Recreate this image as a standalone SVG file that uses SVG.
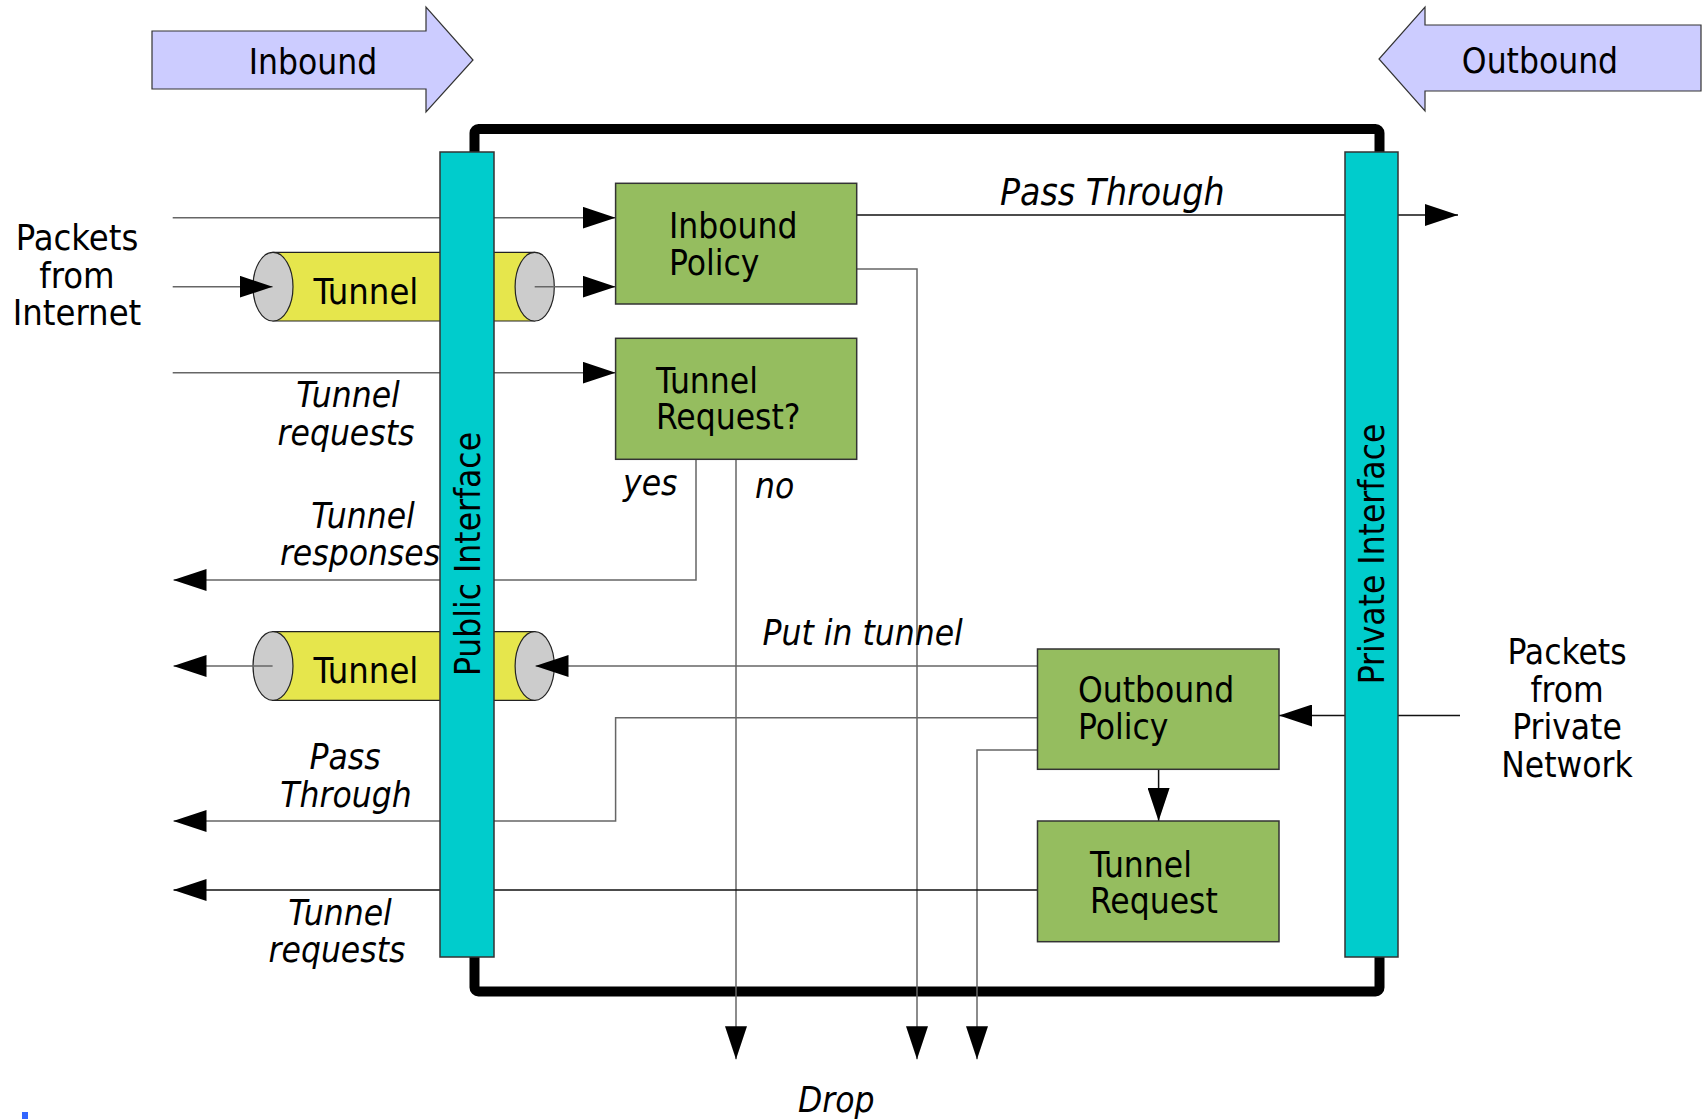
<svg xmlns="http://www.w3.org/2000/svg" width="1702" height="1119" viewBox="0 0 1702 1119">
<defs>
<style>
.t{font-family:"DejaVu Sans Condensed","DejaVu Sans","Liberation Sans",sans-serif;font-stretch:condensed;font-size:35px;fill:#000}
.i{font-family:"DejaVu Sans Condensed","DejaVu Sans","Liberation Sans",sans-serif;font-stretch:condensed;font-size:35px;font-style:italic;fill:#000}
.m{text-anchor:middle}
.box{fill:#95bd5f;stroke:#333;stroke-width:1.5}
.bar{fill:#00cccc;stroke:#333;stroke-width:1.5}
.big{fill:#ccccff;stroke:#333;stroke-width:1.2}
.cyl{fill:#e6e64c;stroke:#222;stroke-width:1.2}
.cap{fill:#cccccc;stroke:#222;stroke-width:1.2}
.g{fill:none;stroke:#666;stroke-width:1.5}
.k{fill:none;stroke:#111;stroke-width:1.5}
</style>
<marker id="ah" viewBox="0 0 33 22" refX="33" refY="11" markerWidth="33" markerHeight="22" markerUnits="userSpaceOnUse" orient="auto">
<path d="M0,0 L33,11 L0,22 z" fill="#000"/>
</marker>
</defs>
<rect width="1702" height="1119" fill="#fff"/>

<g id="inbound-arrow">
<polygon class="big" points="152,31 426,31 426,7 473,60 426,112 426,89 152,89"/>
<text class="t m" x="313" y="74">Inbound</text>
</g>
<g id="outbound-arrow">
<polygon class="big" points="1701,25 1425,25 1425,7 1379,59 1425,111 1425,91 1701,91"/>
<text class="t m" x="1540" y="73">Outbound</text>
</g>

<g id="frame">
<rect x="474.5" y="129" width="905" height="862.5" rx="4" fill="none" stroke="#000" stroke-width="10"/>
</g>

<g id="tunnel-in">
<path class="cyl" d="M273,252.3 H534.7 V321 H273 Z"/>
<ellipse class="cap" cx="273" cy="286.7" rx="20" ry="34.3"/>
<ellipse class="cap" cx="534.7" cy="286.7" rx="19.6" ry="34.3"/>
<text class="t" x="313.5" y="304.3" style="font-size:36px">Tunnel</text>
</g>
<g id="tunnel-out">
<path class="cyl" d="M273,631.7 H534.7 V700.3 H273 Z"/>
<ellipse class="cap" cx="273" cy="666" rx="20" ry="34.3"/>
<ellipse class="cap" cx="534.7" cy="666" rx="19.6" ry="34.3"/>
<text class="t" x="313.5" y="683.3" style="font-size:36px">Tunnel</text>
</g>

<g id="connectors">
<path class="g" d="M172.7,217.7 H615.6" marker-end="url(#ah)"/>
<path class="g" d="M172.7,286.7 H272.6" marker-end="url(#ah)"/>
<path class="g" d="M534.7,286.7 H615.6" marker-end="url(#ah)"/>
<path class="g" d="M172.7,372.7 H615.6" marker-end="url(#ah)"/>
<path class="k" d="M856.7,215 H1458" marker-end="url(#ah)"/>
<path class="g" d="M856.7,269 H917 V1059.3" marker-end="url(#ah)"/>
<path class="g" d="M696,459.3 V580 H173.5" marker-end="url(#ah)"/>
<path class="g" d="M736,459.3 V1059.3" marker-end="url(#ah)"/>
<path class="g" d="M1037.5,666 H535.5" marker-end="url(#ah)"/>
<path class="g" d="M272.6,666 H173.5" marker-end="url(#ah)"/>
<path class="g" d="M1037.5,717.7 H615.6 V821 H173.5" marker-end="url(#ah)"/>
<path class="g" d="M1037.5,750 H977 V1059.3" marker-end="url(#ah)"/>
<path class="k" d="M1460,715.5 H1279" marker-end="url(#ah)"/>
<path class="k" d="M1158.6,769.3 V821" marker-end="url(#ah)"/>
<path class="k" d="M1037.5,890 H173.5" marker-end="url(#ah)"/>
</g>

<g id="public-interface">
<rect class="bar" x="440" y="152" width="54" height="805"/>
<text class="t m" transform="translate(480,554) rotate(-90)">Public Interface</text>
</g>
<g id="private-interface">
<rect class="bar" x="1345" y="152" width="53" height="805"/>
<text class="t m" transform="translate(1384,554) rotate(-90)">Private Interface</text>
</g>

<g id="inbound-policy">
<rect class="box" x="615.6" y="183.3" width="241.1" height="120.7"/>
<text class="t" x="669" y="238.3">Inbound</text>
<text class="t" x="669" y="275">Policy</text>
</g>
<g id="tunnel-request-q">
<rect class="box" x="615.6" y="338.3" width="241.1" height="121"/>
<text class="t" x="656" y="392.7">Tunnel</text>
<text class="t" x="656" y="429.3">Request?</text>
</g>
<g id="outbound-policy">
<rect class="box" x="1037.5" y="649" width="241.5" height="120.3"/>
<text class="t" x="1078" y="701.7">Outbound</text>
<text class="t" x="1078" y="739.3">Policy</text>
</g>
<g id="tunnel-request">
<rect class="box" x="1037.5" y="821" width="241.5" height="120.7"/>
<text class="t" x="1090" y="876.7">Tunnel</text>
<text class="t" x="1090" y="913.3">Request</text>
</g>

<g id="labels">
<text class="t m" x="77" y="250" style="font-size:36px">Packets</text>
<text class="t m" x="77" y="287.7" style="font-size:36px">from</text>
<text class="t m" x="77" y="325" style="font-size:36px">Internet</text>
<text class="t m" x="1567" y="664">Packets</text>
<text class="t m" x="1567" y="701.7">from</text>
<text class="t m" x="1567" y="739.3">Private</text>
<text class="t m" x="1567" y="776.7">Network</text>
<text class="i m" x="348" y="407.3">Tunnel</text>
<text class="i m" x="346" y="444.7">requests</text>
<text class="i m" x="363" y="528">Tunnel</text>
<text class="i m" x="360" y="565.3">responses</text>
<text class="i m" x="345" y="769">Pass</text>
<text class="i m" x="346" y="806.7">Through</text>
<text class="i m" x="340" y="924.7">Tunnel</text>
<text class="i m" x="337" y="962">requests</text>
<text class="i" x="1000" y="205" style="font-size:37px">Pass Through</text>
<text class="i" x="623" y="495">yes</text>
<text class="i" x="755" y="498">no</text>
<text class="i" x="762.5" y="645">Put in tunnel</text>
<text class="i" x="798" y="1111.7">Drop</text>
</g>
<rect x="22" y="1112" width="6" height="7" fill="#3366ff"/>
</svg>
